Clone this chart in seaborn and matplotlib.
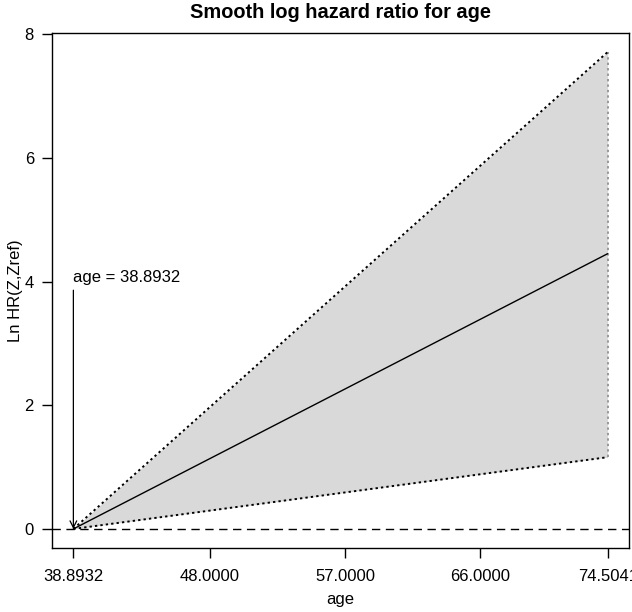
import matplotlib
matplotlib.use("Agg")
import matplotlib.pyplot as plt
import seaborn as sns
import numpy as np
import pandas as pd

# Data
age = [38.8932, 74.5041]
log_hr = [0.0, 4.45]
lower = [0.0, 1.16]
upper = [0.0, 7.71]
xtick_vals = [38.8932, 48.0, 57.0, 66.0, 74.5041]
xtick_labels = ["38.8932", "48.0000", "57.0000", "66.0000", "74.5041"]
ytick_vals = [0, 2, 4, 6, 8]
ref_age = 38.8932
ref_label = "age = 38.8932"
arrow_top = 3.86

df = pd.DataFrame({"age": age, "lhr": log_hr, "lo": lower, "hi": upper})

sns.set_theme(style="white")
plt.rcParams["font.family"] = ["Liberation Sans", "DejaVu Sans"]

fig = plt.figure(figsize=(6.32, 6.12), dpi=100)
ax = fig.add_axes([52/632, 1-548/612, (629-52)/632, (548-33)/612])

ax.fill_between(df["age"], df["lo"], df["hi"], color="#d9d9d9", linewidth=0, zorder=1)
sns.lineplot(data=df, x="age", y="lhr", color="black", linewidth=1.0, ax=ax, zorder=3)
sns.lineplot(data=df, x="age", y="hi", color="black", linewidth=1.4, linestyle=(0, (1.2, 1.6)), ax=ax, zorder=3)
sns.lineplot(data=df, x="age", y="lo", color="black", linewidth=1.4, linestyle=(0, (1.2, 1.6)), ax=ax, zorder=3)
ax.plot([age[-1], age[-1]], [lower[-1], upper[-1]], color="#999999", linewidth=1.4,
        linestyle=(0, (1.2, 1.6)), zorder=2)
ax.axhline(0, color="black", linewidth=1.0, linestyle=(0, (6, 4)), zorder=2)

ax.annotate("", xy=(ref_age, 0), xytext=(ref_age, arrow_top),
            arrowprops=dict(arrowstyle="->,head_length=0.4,head_width=0.2", color="black", lw=0.9,
                            shrinkA=0, shrinkB=0), zorder=4)
ax.text(ref_age, 4.0, ref_label, ha="left", va="baseline", fontsize=12, color="black")

span = age[-1] - age[0]
ax.set_xlim(age[0] - 0.04*span, age[-1] + 0.04*span)
ax.set_ylim(0 - 0.04*7.71, 7.71 + 0.04*7.71)
ax.set_xticks(xtick_vals)
ax.set_xticklabels(xtick_labels)
ax.set_yticks(ytick_vals)
ax.set_yticklabels([str(v) for v in ytick_vals])
ax.tick_params(axis="both", direction="out", length=7, width=1, color="black",
               labelsize=12, labelcolor="black", pad=6)
ax.tick_params(axis="x", pad=8)
ax.xaxis.set_ticks_position("bottom")
ax.yaxis.set_ticks_position("left")
for sp in ax.spines.values():
    sp.set_color("black")
    sp.set_linewidth(1.0)

ax.set_xlabel("age", fontsize=12, color="black", labelpad=6)
ax.set_ylabel("Ln HR(Z,Zref)", fontsize=12, color="black", labelpad=1)
ax.set_title("Smooth log hazard ratio for age", fontsize=14.4, fontweight="bold", color="black", pad=11)
ax.grid(False)

fig.savefig("out.png", dpi=100)
